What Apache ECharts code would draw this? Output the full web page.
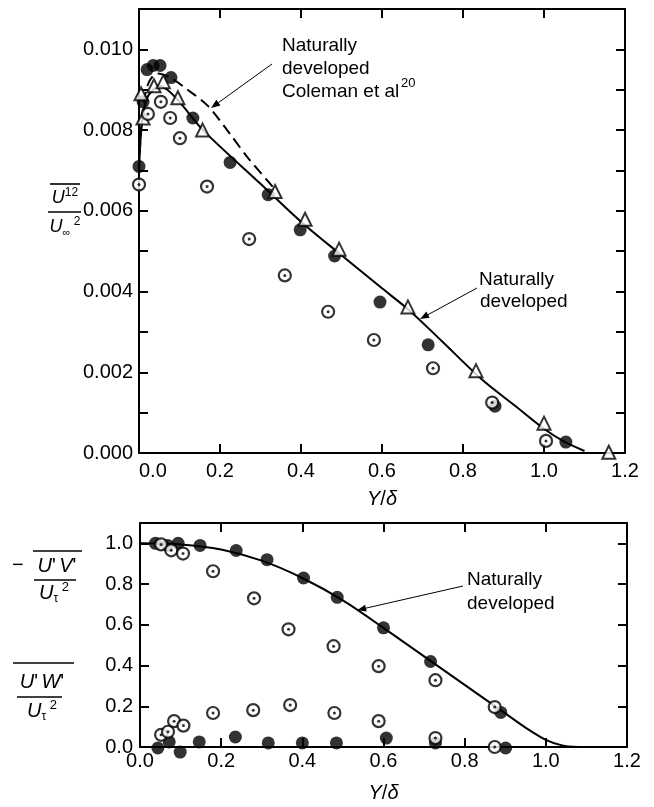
<!DOCTYPE html>
<html>
<head>
<meta charset="utf-8">
<script src="https://cdn.jsdelivr.net/npm/echarts@6/dist/echarts.min.js"></script>
<style>
html,body{margin:0;padding:0;background:#fff;}
#c{width:654px;height:807px;}
</style>
</head>
<body>
<div id="c"></div>
<script>
// ---- Upper panel: u'^2 / U_inf^2 against Y/delta ----
const topFilled = [[0.0,0.0071],[0.01,0.0087],[0.02,0.0095],[0.035,0.0096],[0.052,0.0096],[0.079,0.0093],
  [0.133,0.0083],[0.225,0.0072],[0.319,0.0064],[0.398,0.00553],[0.483,0.00488],[0.595,0.00374],
  [0.714,0.00268],[0.879,0.00116],[1.054,0.00027]];
const topTriangles = [[0.005,0.0089],[0.01,0.0083],[0.037,0.0091],[0.06,0.0092],[0.096,0.0088],[0.157,0.0080],
  [0.336,0.00648],[0.41,0.00579],[0.494,0.00505],[0.664,0.00362],[0.832,0.00204],[1.0,0.00074],[1.16,0.00002]];
const topDotted = [[0.0,0.00665],[0.022,0.0084],[0.054,0.0087],[0.077,0.0083],[0.101,0.0078],[0.168,0.0066],
  [0.272,0.0053],[0.36,0.0044],[0.467,0.0035],[0.58,0.0028],[0.726,0.0021],[0.872,0.00125],[1.005,0.0003]];
const topNatural = [[0,0.0070],[0.004,0.0078],[0.01,0.0084],[0.02,0.0088],[0.035,0.0090],[0.05,0.0091],[0.07,0.0090],
  [0.1,0.0087],[0.158,0.0080],[0.3,0.00667],[0.4,0.00573],[0.5,0.0049],[0.6,0.00408],[0.669,0.00352],
  [0.75,0.00275],[0.849,0.0018],[0.93,0.00116],[1.0,0.0006],[1.05,0.00028],[1.1,0.00005]];
const topColeman = [[0,0.0070],[0.005,0.0080],[0.012,0.0087],[0.025,0.0092],[0.045,0.0094],[0.077,0.0093],
  [0.12,0.0090],[0.17,0.0086],[0.225,0.0079],[0.27,0.0073],[0.33,0.0066]];

// ---- Lower panel: shear stresses -u'v'/U_tau^2 and u'w'/U_tau^2 ----
const uvFilled = [[0.038,1.0],[0.068,0.99],[0.094,1.0],[0.148,0.99],[0.237,0.965],[0.313,0.92],[0.403,0.83],
  [0.486,0.735],[0.6,0.585],[0.716,0.42],[0.889,0.17]];
const uvDotted = [[0.052,0.995],[0.077,0.966],[0.106,0.95],[0.18,0.863],[0.281,0.73],[0.366,0.578],[0.477,0.495],
  [0.588,0.397],[0.728,0.328],[0.874,0.196]];
const uwFilled = [[0.044,-0.005],[0.072,0.025],[0.099,-0.025],[0.146,0.025],[0.235,0.049],[0.316,0.02],[0.4,0.02],
  [0.484,0.02],[0.607,0.044],[0.728,0.02],[0.901,-0.005]];
const uwDotted = [[0.052,0.06],[0.069,0.075],[0.084,0.127],[0.107,0.105],[0.18,0.167],[0.279,0.181],[0.37,0.206],
  [0.479,0.167],[0.588,0.127],[0.728,0.044],[0.874,0.0]];
const uvNatural = [[0,1.0],[0.1,0.995],[0.2,0.97],[0.3,0.915],[0.4,0.83],[0.5,0.72],[0.6,0.585],[0.7,0.445],
  [0.8,0.305],[0.9,0.165],[0.95,0.095],[1.0,0.035],[1.04,0.008],[1.08,0]];

const FONT = '"Liberation Sans", Arial, Helvetica, sans-serif';
const BLACK = '#000';

function frameAxis(gridIndex, pos, extra) {
  return Object.assign({
    gridIndex, type: 'value', position: pos,
    axisLine: { show: true, onZero: false, lineStyle: { color: BLACK, width: 2 } },
    axisTick: { show: true, inside: true, length: 9, lineStyle: { color: BLACK, width: 2 } },
    axisLabel: { show: false },
    splitLine: { show: false }
  }, extra);
}

const xRange = { min: 0, max: 1.2, interval: 0.2 };
const xLabel = (margin, alignMin) => ({
  show: true, color: BLACK, fontSize: 20, fontFamily: FONT, margin,
  formatter: v => v.toFixed(1), alignMinLabel: alignMin
});

function filledSeries(x, y, data) {
  return { type: 'scatter', xAxisIndex: x, yAxisIndex: y, data, symbol: 'circle', symbolSize: 13,
    itemStyle: { color: BLACK }, clip: false, z: 4 };
}
function dottedSeries(x, y, data) {
  return [
    { type: 'scatter', xAxisIndex: x, yAxisIndex: y, data, symbol: 'circle', symbolSize: 12,
      itemStyle: { color: '#fff', borderColor: BLACK, borderWidth: 2.2 }, clip: false, z: 5 },
    { type: 'scatter', xAxisIndex: x, yAxisIndex: y, data, symbol: 'circle', symbolSize: 3,
      itemStyle: { color: BLACK }, clip: false, z: 6 }
  ];
}

const chart = echarts.init(document.getElementById('c'), null, { renderer: 'canvas' });

chart.setOption({
  animation: false,
  backgroundColor: '#fff',
  grid: [
    { left: 139, right: 29, top: 9, bottom: 354, outerBoundsMode: 'none' },
    { left: 140, right: 27, top: 523, bottom: 60, outerBoundsMode: 'none' }
  ],
  xAxis: [
    frameAxis(0, 'bottom', Object.assign({}, xRange, { axisLabel: xLabel(8, 'left') })),
    frameAxis(0, 'top', Object.assign({}, xRange)),
    frameAxis(1, 'bottom', Object.assign({}, xRange, { axisLabel: xLabel(4) })),
    frameAxis(1, 'top', Object.assign({}, xRange))
  ],
  yAxis: [
    frameAxis(0, 'left', { min: 0, max: 0.011, interval: 0.001,
      axisLabel: { show: true, color: BLACK, fontSize: 20, fontFamily: FONT, margin: 6,
        formatter: v => (Math.round(v * 1000) % 2 === 0 ? v.toFixed(3) : '') } }),
    frameAxis(0, 'right', { min: 0, max: 0.011, interval: 0.001 }),
    frameAxis(1, 'left', { min: 0, max: 1.1, interval: 0.2,
      axisLabel: { show: true, color: BLACK, fontSize: 20, fontFamily: FONT, margin: 7,
        formatter: v => (v > 1.05 ? '' : v.toFixed(1)) } }),
    frameAxis(1, 'right', { min: 0, max: 1.1, interval: 0.2 })
  ],
  series: [
    { type: 'line', xAxisIndex: 0, yAxisIndex: 0, data: topNatural, showSymbol: false, smooth: 0.3,
      lineStyle: { color: BLACK, width: 2 }, z: 2 },
    { type: 'line', xAxisIndex: 0, yAxisIndex: 0, data: topColeman, showSymbol: false, smooth: 0.3,
      lineStyle: { color: BLACK, width: 2, type: [11, 6] }, z: 2 },
    filledSeries(0, 0, topFilled),
    { type: 'scatter', xAxisIndex: 0, yAxisIndex: 0, data: topTriangles, symbol: 'triangle', symbolSize: 13,
      itemStyle: { color: '#fff', borderColor: BLACK, borderWidth: 2 }, clip: false, z: 5 },
    ...dottedSeries(0, 0, topDotted),

    { type: 'line', xAxisIndex: 2, yAxisIndex: 2, data: uvNatural, showSymbol: false, smooth: 0.3,
      lineStyle: { color: BLACK, width: 2 }, z: 2 },
    filledSeries(2, 2, uvFilled),
    filledSeries(2, 2, uwFilled),
    ...dottedSeries(2, 2, uvDotted),
    ...dottedSeries(2, 2, uwDotted)
  ]
});

// ---- Annotations, axis titles and stacked-fraction axis names ----
const px = (gi, p) => chart.convertToPixel({ gridIndex: gi }, p);

function txt(x, y, text, extra) {
  return { type: 'text', x, y, style: Object.assign({ text, fill: BLACK, font: '19px ' + FONT,
    textAlign: 'left', textVerticalAlign: 'middle' }, extra), z: 10 };
}
function rich(x, y, text, richStyles, align) {
  return { type: 'text', x, y, style: { text, rich: richStyles, fill: BLACK, fontFamily: FONT,
    textAlign: align || 'center', textVerticalAlign: 'middle' }, z: 10 };
}
function bar(x1, y1, x2, y2, w) {
  return { type: 'line', shape: { x1, y1, x2, y2 }, style: { stroke: BLACK, lineWidth: w || 1.6 }, z: 10 };
}
function arrow(from, to) {
  const dx = to[0] - from[0], dy = to[1] - from[1];
  const L = Math.hypot(dx, dy), ux = dx / L, uy = dy / L;
  const hl = 9, hw = 3.5;
  const bx = to[0] - ux * hl, by = to[1] - uy * hl;
  return [
    { type: 'line', shape: { x1: from[0], y1: from[1], x2: bx, y2: by }, style: { stroke: BLACK, lineWidth: 1 }, z: 10 },
    { type: 'polygon', shape: { points: [[to[0], to[1]], [bx - uy * hw, by + ux * hw], [bx + uy * hw, by - ux * hw]] },
      style: { fill: BLACK }, z: 10 }
  ];
}

const R = {
  u: { fontSize: 20, fontStyle: 'italic', fontFamily: FONT, lineHeight: 24 },
  p: { fontSize: 20, fontFamily: FONT, lineHeight: 24 },
  sup: { fontSize: 13, fontFamily: FONT, verticalAlign: 'top', lineHeight: 14 },
  sub: { fontSize: 12, fontFamily: FONT, verticalAlign: 'bottom', lineHeight: 10 }
};
// slightly smaller set for the upper panel's axis name
const RS = {
  u: { fontSize: 18, fontStyle: 'italic', fontFamily: FONT, lineHeight: 22 },
  sup: { fontSize: 12, fontFamily: FONT, verticalAlign: 'top', lineHeight: 13 },
  sub: { fontSize: 11, fontFamily: FONT, verticalAlign: 'bottom', lineHeight: 9 }
};

const colemanTip = px(0, [0.178, 0.00855]);
const naturalTipTop = px(0, [0.694, 0.00332]);
const naturalTipBottom = px(1, [0.535, 0.672]);
const yDeltaTop = px(0, [0.6, 0]);
const yDeltaBottom = px(1, [0.6, 0]);

const elements = [
  // upper panel labels
  txt(282, 46, 'Naturally'),
  txt(282, 69, 'developed'),
  txt(282, 92, 'Coleman et al'),
  txt(401, 83, '20', { font: '13px ' + FONT }),
  ...arrow([272, 64], colemanTip),
  txt(479, 280, 'Naturally'),
  txt(480, 302, 'developed'),
  ...arrow([477, 288], naturalTipTop),
  // lower panel labels
  txt(467, 580, 'Naturally'),
  txt(467, 604, 'developed'),
  ...arrow([463, 586], naturalTipBottom),
  // x-axis titles
  rich(yDeltaTop[0], 499, '{u|Y}{p|/}{u|δ}', R),
  rich(yDeltaBottom[0], 793, '{u|Y}{p|/}{u|δ}', R),
  // upper y-axis name: overbar u'^2 over U_inf^2
  bar(50, 184, 80, 184),
  rich(65, 198, '{u|U}{sup|12}', RS),
  bar(48, 212, 81, 212),
  rich(65, 227, '{u|U}{sub|∞}{sup| 2}', RS),
  // lower y-axis names
  txt(12, 565, '−', { font: '20px ' + FONT }),
  bar(33, 551, 82, 551),
  rich(57, 566, "{u|U}{p|'} {u|V}{p|'}", R),
  bar(34, 580, 76, 580),
  rich(54, 593, '{u|U}{sub|τ}{sup| 2}', R),
  bar(13, 663, 74, 663),
  rich(42, 682, "{u|U}{p|'} {u|W}{p|'}", R),
  bar(17, 697, 62, 697),
  rich(42, 711, '{u|U}{sub|τ}{sup| 2}', R)
];

chart.setOption({ graphic: { elements } });
</script>
</body>
</html>
